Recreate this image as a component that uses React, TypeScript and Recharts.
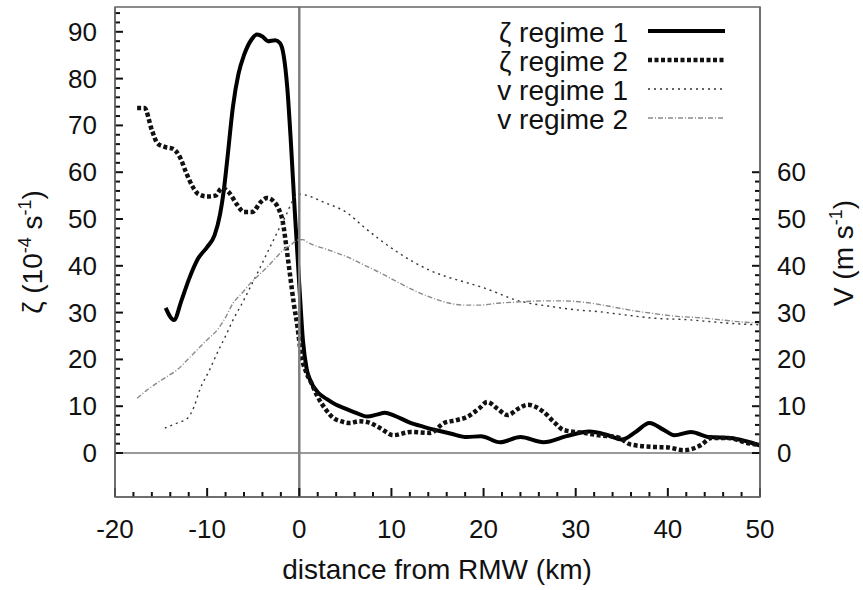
import { LineChart, Line, XAxis, YAxis, ReferenceLine } from 'recharts';

const FONT = '"Liberation Sans", Arial, Helvetica, sans-serif';
const W = 863;
const H = 590;
// plot box in page pixels (gnuplot style frame)
const PLOT = { left: 115, right: 760, top: 7, bottom: 497 };

// zeta regime 1 (solid thick)
const zeta1Dist = [-14.5, -13.6, -12.8, -12.0, -11.0, -10.0, -9.2, -8.6, -8.2, -7.8, -7.2, -6.6, -6.0, -5.2, -4.6, -4.0, -3.4, -2.6, -2.1, -1.7, -1.3, -0.9, -0.5, 0, 0.4, 0.8, 1.2, 2, 3, 4, 5, 6, 7.4, 8.4, 9.3, 10.3, 12, 13.5, 15, 16.5, 18.2, 19.7, 21.8, 24, 26.5, 29, 31.5, 33.5, 35, 36.5, 38, 39.5, 40.7, 42.5, 44.5, 46.8, 48.5, 50];
const zeta1Val = [31, 28.4, 32.5, 37, 41.5, 44, 46.5, 51, 56, 63, 74, 81, 85, 88.3, 89.4, 89, 88, 88.2, 87.6, 85, 78, 66, 52, 36, 24, 18, 15.5, 13, 11.5, 10.3, 9.5, 8.7, 7.8, 8.2, 8.6, 8, 6.5, 5.6, 4.8, 4.1, 3.4, 3.6, 2.3, 3.4, 2.3, 3.6, 4.6, 3.8, 2.9, 4.5, 6.4, 5, 3.8, 4.5, 3.4, 3.2, 2.5, 1.6];

// zeta regime 2 (thick dotted)
const zeta2Dist = [-17.6, -16.8, -16.0, -15.4, -14.6, -13.7, -12.9, -12.3, -11.6, -11.0, -10.0, -9.1, -8.4, -7.6, -6.8, -6.0, -5.1, -4.2, -3.5, -2.8, -2.2, -1.8, -1.4, -1.0, -0.6, -0.2, 0.2, 0.7, 1.3, 2, 2.8, 3.7, 4.5, 5.5, 6.5, 7.4, 8.8, 10.2, 12.1, 14.2, 15.7, 17, 18.2, 19.5, 20.4, 21.5, 22.6, 23.8, 24.8, 26.5, 27.7, 28.7, 30.9, 32.5, 34.5, 36, 38.5, 40, 41.7, 43.6, 44.7, 46.5, 48.7, 50];
const zeta2Val = [73.7, 73.7, 69, 66.2, 65.4, 65, 63, 60, 57, 55.4, 54.8, 55, 56.6, 55.6, 53.2, 51.5, 51.5, 53.6, 54.5, 53.8, 52, 49.5, 44, 38, 32, 27, 21, 17.5, 15, 12, 9.5, 7.5, 6.8, 6.4, 6.8, 6.6, 5.3, 3.8, 4.5, 4.3, 6.4, 7, 7.7, 9.5, 10.9, 9.5, 8.1, 9.5, 10.3, 8.8, 6.5, 4.9, 4.3, 3.8, 3.4, 1.8, 1.3, 1.2, 0.6, 1.7, 3.2, 3.2, 2.1, 1.7];

// v regime 1 (thin black dotted)
const v1Dist = [-14.6, -13.4, -12.1, -11.4, -10.8, -9.8, -8.9, -8, -7.2, -6.2, -5.3, -4.4, -3.5, -2.8, -2.1, -1.4, -0.8, 0, 0.9, 2.5, 5.2, 7, 8.8, 10.6, 12.4, 14.2, 16.1, 18, 19.7, 21.5, 23.3, 25, 27, 30, 32.5, 35, 38.5, 42, 45, 47.5, 50];
const v1Val = [5.3, 6.3, 7.5, 10, 13.5, 17.5, 21.4, 25, 28.4, 32, 35.5, 39, 42.7, 45.5, 48.3, 51, 53.6, 55.3, 55, 53.7, 51.3, 48.3, 45.5, 43, 40.8, 39, 37.6, 36.5, 35.5, 34.2, 32.8, 32, 31.4, 30.6, 30.2, 29.6, 28.8, 28.5, 28, 27.6, 27.4];

// v regime 2 (thin grey dash-dot)
const v2Dist = [-17.6, -16.5, -15.4, -14.3, -13.3, -12.2, -11.1, -10, -8.9, -8, -7.2, -6.2, -5.3, -4.4, -3.5, -2.6, -1.7, -0.9, -0.2, 0.4, 0.9, 3, 5.2, 7, 8.8, 10.6, 12.4, 14.2, 16.1, 17.8, 19.6, 21.5, 24, 26.2, 28.7, 31, 33.5, 36, 38.5, 41, 43.5, 46, 48, 50];
const v2Val = [11.7, 13.5, 15, 16.4, 17.7, 19.8, 22, 24.2, 26.3, 29, 32, 34.2, 36.3, 38, 39.7, 41.6, 43.4, 44.5, 45.5, 45.6, 45, 43.5, 41.9, 40.2, 38.5, 36.6, 34.8, 33.3, 32.1, 31.6, 31.6, 32, 32.3, 32.5, 32.5, 32.2, 31.4, 30.5, 29.8, 29.2, 28.9, 28.4, 28, 27.8];

const xMajor = [-20, -10, 0, 10, 20, 30, 40, 50];
const zetaMajor = [0, 10, 20, 30, 40, 50, 60, 70, 80, 90];
const vMajor = [0, 10, 20, 30, 40, 50, 60];

const xTicks = Array.from({ length: 36 }, (_, i) => -20 + i * 2);
const zetaTicks = Array.from({ length: 48 }, (_, i) => i * 2);
const vTicks = Array.from({ length: 31 }, (_, i) => i * 2);

const toPoints = (xs: number[], ys: number[]) => xs.map((x, i) => ({ x, y: ys[i] }));

const SERIES = [
    { key: 'z1', name: 'ζ regime 1', data: toPoints(zeta1Dist, zeta1Val), axis: 'left', stroke: '#000', width: 4, dash: undefined as string | undefined },
    { key: 'z2', name: 'ζ regime 2', data: toPoints(zeta2Dist, zeta2Val), axis: 'left', stroke: '#111', width: 4.5, dash: '4 2.5' },
    { key: 'v1', name: 'v regime 1', data: toPoints(v1Dist, v1Val), axis: 'right', stroke: '#333', width: 1.4, dash: '2 4' },
    { key: 'v2', name: 'v regime 2', data: toPoints(v2Dist, v2Val), axis: 'right', stroke: '#8a8a8a', width: 1.4, dash: '5 2 1 2' },
];

const AXIS_COLOR = '#666';
const TICK_COLOR = '#111';
const TICK_W = 2;
const TICK_FONT = 26;

const isMajor = (v: number, list: number[]) => list.includes(v);

const LeftTick = (props: any) => {
    const { y, payload } = props;
    const major = isMajor(payload.value, zetaMajor);
    return (
        <g>
            <line x1={PLOT.left} x2={PLOT.left + (major ? 8 : 5)} y1={y} y2={y} stroke={TICK_COLOR} strokeWidth={TICK_W} />
            {major && (
                <text x={PLOT.left - 18} y={y} textAnchor="end" dominantBaseline="central" fontSize={TICK_FONT} fontFamily={FONT} fill="#111">
                    {payload.value}
                </text>
            )}
        </g>
    );
};

const RightTick = (props: any) => {
    const { y, payload } = props;
    const major = isMajor(payload.value, vMajor);
    return (
        <g>
            <line x1={PLOT.right - (major ? 8 : 5)} x2={PLOT.right} y1={y} y2={y} stroke={TICK_COLOR} strokeWidth={TICK_W} />
            {major && (
                <text x={PLOT.right + 17} y={y} textAnchor="start" dominantBaseline="central" fontSize={TICK_FONT} fontFamily={FONT} fill="#111">
                    {payload.value}
                </text>
            )}
        </g>
    );
};

const BottomTick = (props: any) => {
    const { x, payload } = props;
    const major = isMajor(payload.value, xMajor);
    return (
        <g>
            <line x1={x} x2={x} y1={PLOT.bottom} y2={PLOT.bottom - (major ? 9 : 5)} stroke={TICK_COLOR} strokeWidth={TICK_W} />
            {major && (
                <text x={x} y={PLOT.bottom + 32} textAnchor="middle" dominantBaseline="central" fontSize={TICK_FONT} fontFamily={FONT} fill="#111">
                    {payload.value}
                </text>
            )}
        </g>
    );
};

const TopTick = (props: any) => {
    const { x, payload } = props;
    const major = isMajor(payload.value, xMajor);
    return <line x1={x} x2={x} y1={PLOT.top} y2={PLOT.top + (major ? 9 : 5)} stroke={TICK_COLOR} strokeWidth={TICK_W} />;
};

const Overlay = () => (
    <svg width={W} height={H} style={{ position: 'absolute', left: 0, top: 0, pointerEvents: 'none' }} fontFamily={FONT} fill="#111">
        {/* frame */}
        <rect x={PLOT.left} y={PLOT.top} width={PLOT.right - PLOT.left} height={PLOT.bottom - PLOT.top} fill="none" stroke={AXIS_COLOR} strokeWidth={1.5} />
        {/* legend */}
        {SERIES.map((s, i) => {
            const ly = 31 + i * 29;
            return (
                <g key={s.key}>
                    <text x={628} y={ly + 11} textAnchor="end" fontSize={28}>{s.name}</text>
                    <line x1={648} x2={725} y1={ly} y2={ly} stroke={s.stroke} strokeWidth={s.width} strokeDasharray={s.dash} />
                </g>
            );
        })}
        {/* axis titles */}
        <text x={437} y={579} textAnchor="middle" fontSize={28}>distance from RMW (km)</text>
        <text transform="translate(42 252) rotate(-90)" textAnchor="middle" fontSize={28}>
            ζ (10<tspan dy={-11} fontSize={18}>-4</tspan><tspan dy={11}> s</tspan><tspan dy={-11} fontSize={18}>-1</tspan><tspan dy={11}>)</tspan>
        </text>
        <text transform="translate(853 253) rotate(-90)" textAnchor="middle" fontSize={28}>
            V (m s<tspan dy={-11} fontSize={18}>-1</tspan><tspan dy={11}>)</tspan>
        </text>
    </svg>
);

const App = () => {
    const yDomain = [-9.4, 95.3];
    return (
        <div style={{ position: 'absolute', left: 0, top: 0, width: W, height: H, background: '#fff' }}>
            <LineChart width={W} height={H} margin={{ top: PLOT.top, right: 0, bottom: 0, left: 0 }}>
                <XAxis
                    dataKey="x"
                    type="number"
                    domain={[-20, 50]}
                    ticks={xTicks}
                    allowDataOverflow
                    height={H - PLOT.bottom}
                    tickLine={false}
                    tickSize={0}
                    tick={BottomTick}
                    interval={0}
                    axisLine={{ stroke: AXIS_COLOR, strokeWidth: 1.5 }}
                />
                <XAxis
                    xAxisId="top"
                    orientation="top"
                    dataKey="x"
                    type="number"
                    domain={[-20, 50]}
                    ticks={xTicks}
                    allowDataOverflow
                    height={0}
                    tickLine={false}
                    tickSize={0}
                    tick={TopTick}
                    interval={0}
                    axisLine={{ stroke: AXIS_COLOR, strokeWidth: 1.5 }}
                />
                <YAxis
                    yAxisId="left"
                    type="number"
                    domain={yDomain}
                    ticks={zetaTicks}
                    allowDataOverflow
                    width={PLOT.left}
                    tickLine={false}
                    tickSize={0}
                    tick={LeftTick}
                    interval={0}
                    axisLine={{ stroke: AXIS_COLOR, strokeWidth: 1.5 }}
                />
                <YAxis
                    yAxisId="right"
                    orientation="right"
                    type="number"
                    domain={yDomain}
                    ticks={vTicks}
                    allowDataOverflow
                    width={W - PLOT.right}
                    tickLine={false}
                    tickSize={0}
                    tick={RightTick}
                    interval={0}
                    axisLine={{ stroke: AXIS_COLOR, strokeWidth: 1.5 }}
                />
                <ReferenceLine yAxisId="left" y={0} stroke="#777" strokeWidth={1.5} />
                {SERIES.map(s => (
                    <Line
                        key={s.key}
                        yAxisId={s.axis}
                        data={s.data}
                        dataKey="y"
                        name={s.name}
                        type="monotone"
                        stroke={s.stroke}
                        strokeWidth={s.width}
                        strokeDasharray={s.dash}
                        dot={false}
                        activeDot={false}
                        isAnimationActive={false}
                    />
                ))}
                <ReferenceLine yAxisId="left" x={0} stroke="#808080" strokeWidth={2.5} />
            </LineChart>
            <Overlay />
        </div>
    );
};

export default App;
